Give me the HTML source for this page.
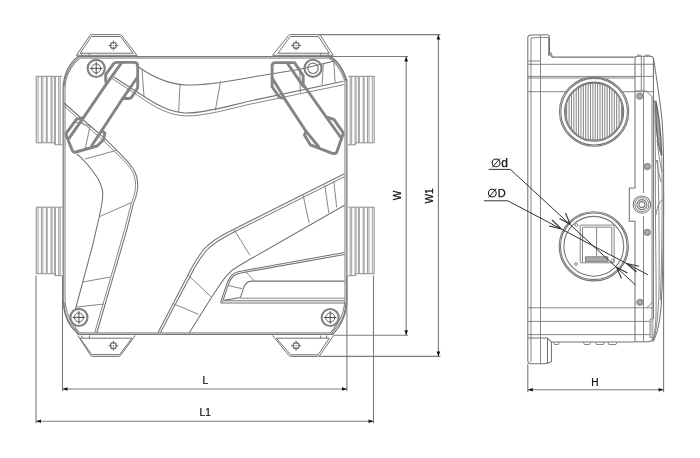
<!DOCTYPE html>
<html><head><meta charset="utf-8">
<style>
html,body{margin:0;padding:0;background:#fff;}
body{width:700px;height:458px;overflow:hidden;font-family:"Liberation Sans",sans-serif;}
svg{display:block;will-change:transform;filter:grayscale(1) blur(0.35px)}
.b{fill:none;stroke:#727272;stroke-width:1.05}
.e{fill:none;stroke:#777;stroke-width:1.25}
.k{fill:none;stroke:#727272;stroke-width:1}
.t{fill:none;stroke:#808080;stroke-width:0.95}
.c{fill:none;stroke:#848484;stroke-width:2.9;stroke-linejoin:round;stroke-linecap:round}
.ci{fill:none;stroke:#999;stroke-width:1.3}
.r{fill:none;stroke:#777;stroke-width:1.1}
.h{fill:none;stroke:#828282;stroke-width:1}
.d{fill:none;stroke:#7c7c7c;stroke-width:1.1}
.a{fill:#111;stroke:none}
.bt{stroke:#111;stroke-width:0.25}
text{font-family:"Liberation Sans",sans-serif;font-size:11.5px;fill:#111}
</style></head><body>
<svg width="700" height="458" viewBox="0 0 700 458">
<defs>
<g id="xh"><circle r="3" class="b" style="stroke-width:1.3"/><path class="b" d="M-5,0 H-1.6 M1.6,0 H5 M0,-5 V-1.6 M0,1.6 V5"/><circle r="0.6" fill="#555"/></g>
<g id="scr"><circle r="8.55" fill="none" stroke="#808080" stroke-width="2.1"/><circle r="4.5" fill="none" stroke="#555" stroke-width="0.9"/><path fill="none" stroke="#3a3a3a" stroke-width="0.9" d="M-6.3,0 H6.3 M0,-6.3 V6.3"/></g>
<g id="port"><path fill="none" stroke="#9c9c9c" stroke-width="1" d="M1.9,0.5 V66.3 M5.2,0.5 V66.3 M6.7,0.5 V66.3 M10.1,0.5 V66.3 M11,0.5 V66.3 M14.9,0.5 V66.3 M15.8,0.5 V66.3 M18.2,0.5 V66.3 M19.2,0.5 V68.2 M22.5,0.5 V68.2 M24,0.5 V68.2"/><path fill="none" stroke="#8a8a8a" stroke-width="1" d="M26,0 H0 V66.5 H18.7 V68.5 H26"/></g>
<g id="sscr"><circle r="3.3" fill="#9a9a9a" stroke="#888" stroke-width="0.7"/><circle r="1.3" fill="#b4b4b4"/></g>
</defs>
<rect width="700" height="458" fill="#fff"/>
<!-- ================= TOP VIEW ================= -->
<g id="topview">
<!-- ports -->
<use href="#port" x="36.2" y="76.3"/>
<use href="#port" x="36.2" y="207.2"/>
<use href="#port" transform="translate(374.2,76.3) scale(-1,1)"/>
<use href="#port" transform="translate(374.2,207.2) scale(-1,1)"/>
<!-- body outline -->
<path class="e" d="M77.5,56.6 H329.5 C336,58.5 343,68 346.9,80 V300 C346.6,312 343,321 338.4,327.3 L333,334.4 H78.5 L71.6,327.3 C67,321 63.4,312 63.2,300 V87 C63.6,76 68,65 77.5,56.6 Z"/>
<path class="e" style="stroke:#969696" d="M80,58 H328 C334,60 341,69 345,81 V298 C344.8,309 341.5,318 337.2,323.7 L331.2,332.1 Q330.7,332.8 329,332.8 H82 Q79.3,332.8 78.8,332.1 L72.8,323.7 C68.5,318 65.2,309 65,298 V88 C65.4,78 69.5,67 80,58 Z"/>
<path class="k" d="M64,302 C64.3,313 67.7,320.5 72.2,325.5 L79,334.4 M345.9,302 C345.6,313 342.2,320.5 337.7,325.5 L331,334.4 M64,87 C64.5,77 68.5,66.5 78.5,57.2 M346,81 C342.5,69 335.5,59.5 329,57.4"/>
<!-- brackets -->
<path class="k" d="M76.4,55.3 L89.8,35.6 Q90.5,34.6 92,34.6 H119.5 Q121,34.6 121.8,35.6 L137,55.3 Z M80.2,53.2 L91.4,36.5 H120.4 L133.2,53.2 Z M81.8,53.2 V55.3 M89.3,53.2 V55.3"/>
<path class="k" d="M272.5,55.3 L288.4,35.6 Q289.2,34.6 290.7,34.6 H318.5 Q320,34.6 320.6,35.6 L333.2,55.3 Z M277.9,53.2 L290.2,36.5 H318.6 L329.3,53.2 Z M320.7,53.2 V55.3 M328.2,53.2 V55.3"/>
<path class="k" d="M77.9,335.5 L90.2,354.8 Q91,356.4 93,356.4 H118 Q120,356.4 121,354.8 L135.2,335.5 M80,338.2 L91.8,354.6 H119.6 L132,338.2 H80 M82,335.5 V338.2 M89.4,335.5 V338.2"/>
<path class="k" d="M272.5,335.5 L288.8,355.4 Q289.7,356.4 291.2,356.4 H317.5 Q319,356.4 319.8,355.4 L333.6,335.5 M276.3,338.2 L290.7,354.8 H318.1 L329.3,338.2 H276.3 M320.7,335.5 V338.2 M326.6,335.5 V338.2"/>
<use href="#xh" x="113.4" y="45.4"/><use href="#xh" x="296.1" y="45.4"/>
<use href="#xh" x="113.4" y="345.7"/><use href="#xh" x="296.1" y="345.7"/>

<!-- upper channel -->
<path class="b" d="M138.5,67 C150,75 167,84.5 187,85 C207,85.3 230,81 250,77.5 L300,69.2 L334.5,61"/>
<path class="b" d="M113.5,76.7 L134,90 C150,100 165,112 185,113 C205,113.5 230,105.5 250,101 L343.5,81.3"/>
<path class="t" d="M112,78.5 L133,92.2 C149,102.8 164,114.8 185,115.9 C205,116.4 230,108.6 250,104.2 L344,84.6"/>
<path class="t" d="M142,69.2 L144,96.5 M180,85 L178.6,112.6 M220.5,81.6 L215.3,110.5 M299.8,67.5 L300.3,93.2 M323.4,63 L322,85.5 M333.8,61 L335.1,83"/>
<!-- left curved channel -->
<path class="b" d="M64,103 C78,115.5 92,127.5 105.8,139.4 L116.3,149.9 C124,157.5 131,164 134.5,171 C138,178 138,186 137.3,190.5 C136.5,196 135,200 133.4,203.6 L126.8,229.8 L96.8,333"/>
<path class="t" d="M64,106 C77,118 90.5,129.5 104.2,141.2 L114.7,151.6 C122.3,159 129.2,165.5 132.6,172 C135.9,178.5 135.9,186 135.2,190.2 C134.4,195.5 132.9,199.5 131.4,203 L124.7,229.3 L94.6,333"/>
<path class="b" d="M77,154 L81,157.7 C85,161.5 88.5,165.5 91.4,169.5 C95,174 97.5,177.5 99.3,181.3 C101.5,186 102.7,189.5 102.7,193.1 C102.8,197 102.5,200 101.9,203.6 L99.3,216.7 L92.7,245 L75.5,309"/>
<path class="t" d="M84.9,159.1 L116.3,150.4 M99.3,216.7 L132,202.3 M83,282 L110,277 M76.5,307 L104,304"/>
<path class="t" d="M74,121.5 L90,126 L85,150"/>
<!-- lower right channel -->
<path class="b" d="M157.9,332.7 L188,275 C194,263 199,255 205,248 C212,240.5 222,235 233.8,229.2 L344.5,173.8"/>
<path class="b" d="M160.3,332.7 L190.2,276.2 C196.2,264.3 201,256.6 206.9,250 C213.7,242.7 223.4,237.4 235,231.5 L344.5,176.6"/>
<path class="b" d="M189.3,332.7 L211.6,297.3 C217,289 221,282.5 226,276.3 C230,271.5 234,268.5 239,265.8 L250,259.3 L344.5,205.2"/>
<path class="t" d="M173.6,303.8 L198.5,314.3 M188,275 L211.6,297.3 M233.8,229.2 L250,255.4 M303.2,195.4 L309.1,222.9 M324.9,185.5 L328.8,213 M333.9,181.6 L336.6,207.2"/>
<!-- handle -->
<path class="b" d="M220.5,302.6 L223.5,293.7 L227.3,282.7 C228.8,279 230,276.8 231.7,275.1 C233.5,273.3 235.5,272.5 238.2,271.8 L245.8,270.2 L344.5,252.5"/>
<path class="b" d="M222.3,302.6 L225.1,294.2 L228.9,283.4 C230.3,280 231.4,278 233,276.5 C234.6,275 236.4,274.3 238.8,273.6 L246.2,272 L344.5,254.6"/>
<path class="b" d="M224,300.3 L240.4,297.6 L243.1,289.3 C244,286.5 244.8,285 245.8,283.8 C247,282.3 248.5,281.1 251,281.1 H344.5"/>
<path class="b" d="M224,300.8 H344.5 M220.5,302.9 H344.5"/>
<path class="t" d="M240.4,298.2 H344.5 M228.4,285.5 L242,288.7 M245.3,271.3 L254,280.6"/>
<!-- clips -->
<path class="c" d="M117,62.4 H134 Q137.7,62.4 137.7,66.2 V87.8 L131.8,97 Q130.8,98.5 128.5,98.5 L122.8,98.3 L101.6,130.7 L104.8,133.2 L103.7,139.5 L97.1,146 L76,152 Q73.3,152.8 72.3,150.5 L66.3,135.5 Q65.6,133.8 66.8,132.3 L76.4,119.3 L83.5,117.6 L106.8,83.4 L105.7,80.9 V74.4 L113.9,63.3 Q114.5,62.4 117,62.4 Z"/>
<path class="c" d="M121.7,62.6 L106.8,83.4 M83.5,117.6 L69.3,137.8 M136.9,78 L122.8,98.3 M101.6,130.7 L91.8,145.5"/>
<path class="c" d="M275.5,62.6 H294.5 L303.2,75.7 V84.5 L326.2,117 L333.8,119.3 L342.3,131.3 Q343.4,132.8 342.9,134.5 L337,151.5 Q336.2,153.8 334,153.5 L331.7,153.1 L310.4,144.9 L304.4,135.1 L306,131.3 L284.1,98.1 Q281,98 279.2,97 L272.1,86.7 V66 Q272.1,62.6 275.5,62.6 Z"/>
<path class="c" d="M287.4,63.2 L303.2,86.2 M272.6,78.8 L284.1,97.6 M326.2,117 L341.5,138.5 M306,131.3 L318.5,146.5"/>
<!-- screws -->
<use href="#scr" x="96.2" y="68.4"/>
<use href="#scr" x="78.9" y="317.4"/>
<use href="#scr" x="330.2" y="317.5"/>
<circle cx="313" cy="68.3" r="8.55" fill="none" stroke="#808080" stroke-width="2.1"/><circle cx="313" cy="68.3" r="5.2" fill="none" stroke="#777" stroke-width="1.2"/>
</g>

<!-- ============ DIMENSIONS (top view) ============ -->
<g id="dims">
<!-- L -->
<path class="d" d="M62.5,276 V391 M346.9,276 V391 M62.5,389 H346.9"/>
<path class="a" d="M62.5,389 L67.5,387.2 V390.8 Z M347,389 L342,387.2 V390.8 Z"/>
<!-- L1 -->
<path class="d" d="M36,275.5 V423.3 M373.5,275.5 V423.3 M36,421.3 H373.5"/>
<path class="a" d="M36,421.3 L41,419.5 V423.1 Z M373.5,421.3 L368.5,419.5 V423.1 Z"/>
<!-- W -->
<path class="d" d="M329,56.5 H408 M333.6,335.2 H408 M406.2,56.5 V335.2"/>
<path class="a" d="M406.2,56.6 L404.4,61.6 H408 Z M406.2,335.2 L404.4,330.2 H408 Z"/>
<!-- W1 -->
<path class="d" d="M317.5,34.6 H440.4 M319.1,356.4 H440.4 M438.4,34.6 V356.4"/>
<path class="a" d="M438.4,34.6 L436.6,39.6 H440.2 Z M438.4,356.4 L436.6,351.4 H440.2 Z"/>
<text transform="translate(205.3,383.9) scale(0.88,1)" text-anchor="middle" class="bt">L</text>
<text transform="translate(205.2,415.9) scale(0.88,1)" text-anchor="middle" class="bt">L1</text>
<text transform="translate(401.2,195.5) rotate(-90) scale(0.88,1)" text-anchor="middle" class="bt">W</text>
<text transform="translate(433.2,196) rotate(-90) scale(0.88,1)" text-anchor="middle" class="bt">W1</text>
</g>

<!-- ================= SIDE VIEW ================= -->
<g id="sideview">
<!-- outline -->
<path class="b" d="M527.8,38 Q527.8,35.2 531,35 L546.5,34.8 Q549.5,34.8 549.5,37.5 V54.5 L552.5,57.1 H634.6 M527.8,38 V360.5 Q527.8,363.8 531,363.8 H545 Q547.5,363.8 547.5,361 V338 M527.8,338 H547.5 L551.4,342 V361.5 L547.5,363.5 M551.4,342 H634.6"/>
<path class="t" d="M531,38 V362 M540.5,35 V363.8 M548.6,38 V56 M531,38 Q540,36.8 548.6,37.6 M549.5,54.5 L551,52.5 L552.5,57.1"/>
<path class="t" d="M527.8,61 H540.6 M527.8,64.3 H653 M527.8,76.4 H653 M527.8,78 H634.6 M527.8,91.7 H653 M527.8,307.8 H653 M527.8,321.4 H653 M527.8,334.6 H653"/>
<!-- feet -->
<path class="t" d="M553.5,342 L554.5,344.5 H558.5 L559.3,342 M583.4,342 L584.4,344.5 H589.7 L590.7,342 M595.5,342 L596.5,344.5 H603.4 L604.4,342 M607.8,342 L608.8,344.5 H616 L617,342"/>
<!-- circle 1 (hatched) -->
<circle cx="594.1" cy="111.7" r="34.6" class="r" style="fill:#fff"/><circle cx="594.1" cy="111.7" r="33.3" class="r"/><circle cx="594.1" cy="111.7" r="29.6" class="r"/><circle cx="594.1" cy="111.7" r="28.6" class="r"/>
<path class="h" d="M566.70,104.6 V118.8 M569.08,98.5 V124.9 M571.46,94.7 V128.7 M573.84,91.9 V131.5 M576.22,89.8 V133.6 M578.60,88.0 V135.4 M580.98,86.6 V136.8 M583.36,85.5 V137.9 M585.74,84.7 V138.7 M588.12,84.0 V139.4 M590.50,83.6 V139.8 M592.88,83.4 V139.9 M595.26,83.4 V139.9 M597.64,83.6 V139.8 M600.02,84.0 V139.4 M602.40,84.6 V138.8 M604.78,85.5 V137.9 M607.16,86.6 V136.8 M609.54,88.0 V135.4 M611.92,89.7 V133.7 M614.30,91.9 V131.5 M616.68,94.6 V128.8 M619.06,98.4 V125.0 M621.44,104.4 V119.0 M584,139.9 H604"/>
<!-- circle 2 -->
<circle cx="593.8" cy="246.3" r="34.6" class="r"/><circle cx="593.8" cy="246.3" r="33.3" class="r"/><circle cx="593.8" cy="246.3" r="29.9" class="r"/>
<path class="t" d="M580.2,225.1 H614.1 V262.8 H580.2 Z M582.5,227.2 H611.8 V256.5 M582.5,227.2 V262.8 M596.6,227.2 V256.5"/>
<rect x="585.3" y="256.8" width="22.6" height="4.6" fill="#aaa" stroke="#666" stroke-width="0.7"/>
<circle cx="576.5" cy="225.1" r="1.4" class="t"/><circle cx="576" cy="264" r="1.4" class="t"/><circle cx="612.6" cy="260.5" r="1.4" class="t"/>
<!-- right column -->
<path class="b" d="M635,342 V221.3 H629.3 V188 H635 V58.5 Q635,56.2 637.2,56.2 H650.5 Q653.2,56.2 653.4,59 L653.4,319 M653,337 Q652.5,341.8 648,341.8 H635"/>
<path class="t" d="M641.3,56.2 V90.7 M643.9,56.2 V90.7 M643.5,90.7 V193 M643.5,216 V341.8 M637,55.2 H641 M645,55.2 H650 M652,96.5 V319"/>
<rect x="650" y="319" width="2.9" height="18.3" fill="#d0d0d0" stroke="#888" stroke-width="0.8"/>
<!-- step panel -->
<path class="t" d="M646.2,90.9 H635 M646.2,90.9 L652.6,97 M652.7,302 L646.6,307.8"/>
<!-- cover curves -->
<path class="b" d="M653.6,58.5 C656,75 659.5,97 661.5,115 C663,130 663.6,150 663.6,175 C663.7,230 663,275 661.2,305 C660,322 657,335 652.7,341.7"/>
<path class="t" d="M654.6,100 C655.3,120 655.4,160 655.4,200 C655.6,250 656.5,290 656,315 C655.5,328 654.5,336 652.6,341"/>
<path class="t" d="M657.5,160 C659,180 659.3,250 659,290 C658.6,310 657,328 653.5,340.5 M661.8,157 C662.5,200 662,260 660.3,300"/>
<path d="M655.8,101 C658.5,112 660.8,130 661.8,156 C659.5,150 657,140 656.2,125 C655.8,115 655.7,108 655.8,101 Z" fill="#a2a2a2" stroke="#636363" stroke-width="1.2"/>
<path class="t" d="M657,140 C658,150 659.5,160 661.8,172 M656.5,160 C657.5,165 659,175 661,182 M656,215 C657.5,205 660,200 662.8,200"/>
<!-- small screws -->
<use href="#sscr" x="639.7" y="96.2"/><use href="#sscr" x="647.3" y="166.6"/><use href="#sscr" x="647.3" y="232.4"/><use href="#sscr" x="640" y="302.3"/>
<!-- connector -->
<circle cx="641.9" cy="204.6" r="8.7" class="b"/><circle cx="641.9" cy="204.6" r="7" class="t"/><circle cx="641.9" cy="204.6" r="5" class="b"/><circle cx="641.9" cy="204.6" r="3" class="b"/>
<!-- leaders -->
<path class="d" style="stroke:#333;stroke-width:1" d="M488.8,169.4 H510.4 L635.5,285 M483.9,200.8 H507.8 L648,274.8"/>
<path class="d" style="stroke:#333" d="M570.2,224.3 L559.5,218.5 M570.2,224.3 L565.5,213 M616.6,267.3 L627.5,273 M616.6,267.3 L621.5,278.5"/>
<path class="d" style="stroke:#333" d="M561.4,228.9 L549,226 M561.4,228.9 L552,220 M626.7,263.5 L639,266.3 M626.7,263.5 L636.5,272"/>
<circle cx="496.1" cy="162.9" r="3.9" class="d" style="stroke:#1c1c1c;stroke-width:1.05"/><path class="d" style="stroke:#1c1c1c;stroke-width:1" d="M492.3,167.3 L500,158.4"/><text x="501.3" y="167.2" class="bt" style="font-size:12px">d</text>
<circle cx="492.3" cy="193.1" r="3.9" class="d" style="stroke:#1c1c1c;stroke-width:1.05"/><path class="d" style="stroke:#1c1c1c;stroke-width:1" d="M488.5,197.5 L496.2,188.6"/><text x="497.8" y="196.9" class="bt" style="font-size:11px">D</text>
<!-- H -->
<path class="d" d="M527.8,364 V392.3 M663.6,190 V392.3 M527.8,389.8 H663.6"/>
<path class="a" d="M527.8,389.8 L532.8,388 V391.6 Z M663.6,389.8 L658.6,388 V391.6 Z"/>
<text transform="translate(594.9,385.7) scale(0.88,1)" text-anchor="middle" class="bt">H</text>
</g>
</svg>
</body></html>
